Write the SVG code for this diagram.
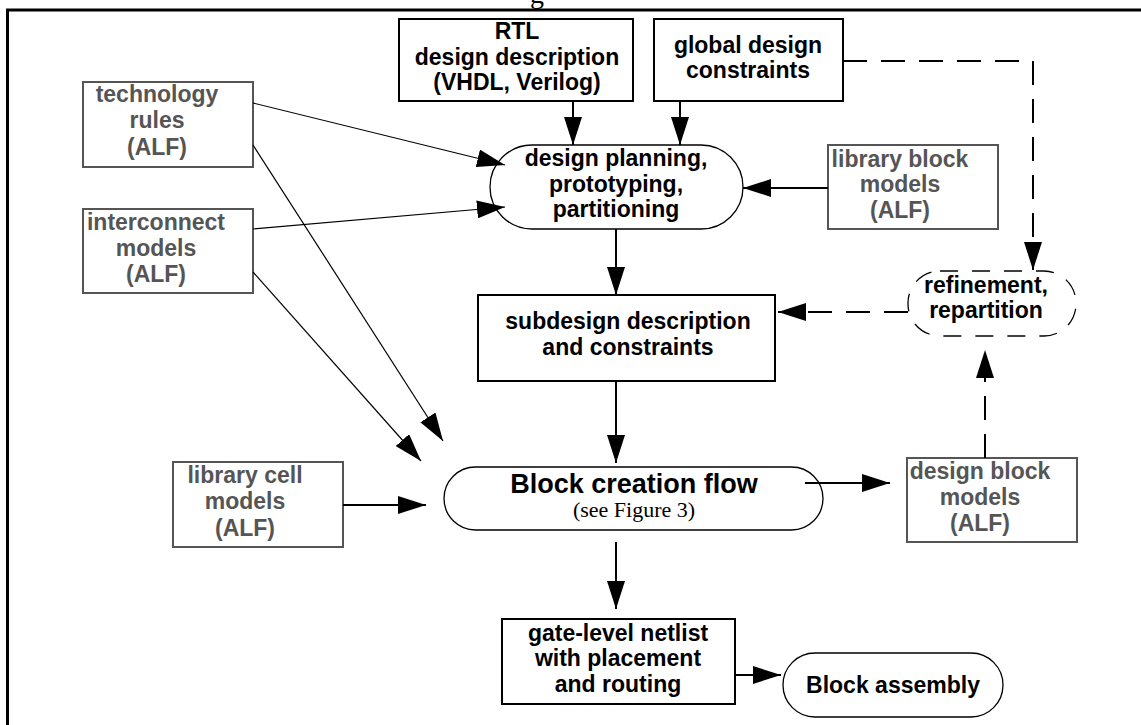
<svg xmlns="http://www.w3.org/2000/svg" width="1141" height="725" viewBox="0 0 1141 725">
<defs>
<marker id="ah" markerUnits="userSpaceOnUse" markerWidth="28" markerHeight="18" refX="28" refY="9" orient="auto" viewBox="0 0 28 18"><path d="M0,0 L28,9 L0,18 z" fill="#000" stroke="none"/></marker>
</defs>
<style>
.t{font-family:"Liberation Sans",Arial,Helvetica,sans-serif;font-weight:bold;font-size:23px;text-anchor:middle;fill:#000}
.gr{fill:#555}
.big{font-size:27px}
.box{fill:#fff;stroke:#000;stroke-width:2}
.gbox{fill:#fff;stroke:#555;stroke-width:2}
.pill{fill:#fff;stroke:#000;stroke-width:1.3}
.c{fill:none;stroke:#000;stroke-width:2;marker-end:url(#ah)}
.th{stroke-width:1.2}
.d{stroke-dasharray:24 14}
.serif{font-family:"Liberation Serif","Times New Roman",serif;font-weight:normal;font-size:22px;text-anchor:middle;fill:#000}
</style>
<rect x="0" y="0" width="1141" height="725" fill="#fff"/>
<text x="537" y="3" class="serif" style="font-size:28px">g</text>
<rect id="frame" x="7.5" y="10" width="1145" height="730" fill="none" stroke="#000" stroke-width="3"/>

<g id="rtl">
<rect class="box" x="399" y="19" width="234" height="82"/>
<text class="t" x="517" y="39">RTL</text>
<text class="t" x="517" y="65">design description</text>
<text class="t" x="517" y="90">(VHDL, Verilog)</text>
</g>
<g id="global">
<rect class="box" x="654" y="19" width="189" height="82"/>
<text class="t" x="748" y="53">global design</text>
<text class="t" x="748" y="78">constraints</text>
</g>
<g id="tech">
<rect class="gbox" x="83" y="82" width="170" height="85"/>
<text class="t gr" x="157" y="102">technology</text>
<text class="t gr" x="157" y="128">rules</text>
<text class="t gr" x="157" y="155">(ALF)</text>
</g>
<g id="inter">
<rect class="gbox" x="83" y="209" width="170" height="84"/>
<text class="t gr" x="156" y="230">interconnect</text>
<text class="t gr" x="156" y="256">models</text>
<text class="t gr" x="156" y="282">(ALF)</text>
</g>
<g id="planning">
<rect class="pill" x="490" y="145" width="253" height="84" rx="42" ry="42"/>
<text class="t" x="616" y="166">design planning,</text>
<text class="t" x="616" y="192">prototyping,</text>
<text class="t" x="616" y="217">partitioning</text>
</g>
<g id="libblock">
<rect class="gbox" x="828" y="145" width="170" height="84"/>
<text class="t gr" x="900" y="167">library block</text>
<text class="t gr" x="900" y="192">models</text>
<text class="t gr" x="900" y="218">(ALF)</text>
</g>
<g id="subdesign">
<rect class="box" x="478" y="295" width="297" height="86"/>
<text class="t" x="628" y="329">subdesign description</text>
<text class="t" x="628" y="355">and constraints</text>
</g>
<g id="refinement">
<rect class="pill" x="908" y="271" width="168" height="65" rx="32" ry="32" stroke-dasharray="18 14"/>
<text class="t" x="986" y="293">refinement,</text>
<text class="t" x="986" y="318">repartition</text>
</g>
<g id="libcell">
<rect class="gbox" x="173" y="462" width="170" height="85"/>
<text class="t gr" x="245" y="483">library cell</text>
<text class="t gr" x="245" y="509">models</text>
<text class="t gr" x="245" y="536">(ALF)</text>
</g>
<g id="blockflow">
<rect class="pill" x="444" y="467" width="379" height="63" rx="31.5" ry="31.5"/>
<text class="t big" x="634" y="493">Block creation flow</text>
<text class="serif" x="634" y="517">(see Figure 3)</text>
</g>
<g id="designblock">
<rect class="gbox" x="907" y="458" width="170" height="84"/>
<text class="t gr" x="980" y="479">design block</text>
<text class="t gr" x="980" y="505">models</text>
<text class="t gr" x="980" y="531">(ALF)</text>
</g>
<g id="gatelevel">
<rect class="box" x="502" y="619" width="233" height="85"/>
<text class="t" x="618" y="641">gate-level netlist</text>
<text class="t" x="618" y="666">with placement</text>
<text class="t" x="618" y="692">and routing</text>
</g>
<g id="assembly">
<rect class="pill" x="783" y="653" width="220" height="64" rx="32" ry="32"/>
<text class="t" x="893" y="693">Block assembly</text>
</g>

<g id="connectors">
<path class="c" d="M573,101 V145"/>
<path class="c" d="M680,101 V145"/>
<path class="c th" d="M253,103 L505,165"/>
<path class="c th" d="M253,229 L505,207"/>
<path class="c" d="M828,188 H743"/>
<path class="c" d="M616,229 V295"/>
<path class="c th" d="M253,145 L443,441"/>
<path class="c th" d="M253,272 L421,461"/>
<path class="c" d="M343,505 H426"/>
<path class="c" d="M616,381 V463"/>
<path class="c" d="M616,542 V609"/>
<path class="c" d="M805,483 H890"/>
<path class="c" d="M735,675 H781"/>
<path class="c d" d="M843,61 H1033 V270"/>
<path class="c d" d="M908,312 H778"/>
<path class="c d" d="M985,458 V350"/>
</g>
</svg>
